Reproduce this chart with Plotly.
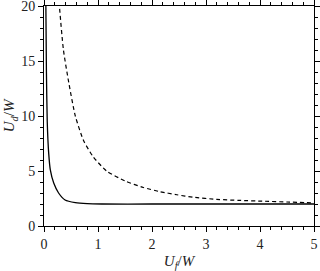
import plotly.graph_objects as go

# Solid curve
solid_x = [0.033, 0.045, 0.06, 0.087, 0.117, 0.18, 0.27, 0.39, 0.58, 0.8, 1.07, 2.0, 3.0, 4.0, 5.0]
solid_y = [21.0, 14.0, 9.5, 6.6, 5.1, 3.9, 3.0, 2.36, 2.12, 2.03, 2.0, 2.0, 2.0, 2.0, 2.0]

# Dashed curve
dash_x = [0.27, 0.285, 0.36, 0.46, 0.58, 0.73, 0.91, 1.16, 1.5, 1.84, 2.15, 2.46, 2.76, 3.2, 3.6, 4.09, 4.5, 5.0]
dash_y = [21.0, 20.0, 16.0, 13.0, 10.0, 7.8, 6.3, 5.0, 4.1, 3.5, 3.12, 2.84, 2.62, 2.42, 2.33, 2.25, 2.18, 2.1]

x_ticks = [0, 1, 2, 3, 4, 5]
y_ticks = [0, 5, 10, 15, 20]

fig = go.Figure()
fig.add_trace(go.Scatter(x=solid_x, y=solid_y, mode="lines",
                         line=dict(color="black", width=1.3, shape="spline", smoothing=0.6),
                         showlegend=False))
fig.add_trace(go.Scatter(x=dash_x, y=dash_y, mode="lines",
                         line=dict(color="black", width=1.2, dash="4px,3px", shape="spline", smoothing=0.6),
                         showlegend=False))

fam = "Liberation Serif, DejaVu Serif, serif"
font = dict(family=fam, color="#222222", size=14)

axis_common = dict(
    showline=True, linecolor="black", linewidth=1, mirror="ticks",
    ticks="outside", ticklen=5, tickwidth=1, tickcolor="black",
    showgrid=False, zeroline=False, automargin=False,
    ticklabeloverflow="allow",
    tickfont=font,
)

fig.update_xaxes(range=[0, 5], tickvals=x_ticks, ticktext=[str(v) for v in x_ticks],
                 minor=dict(dtick=0.2, ticklen=3, ticks="outside", tickcolor="black", showgrid=False),
                 title=dict(text="<i>U</i><sub><i>f</i></sub>/<i>W</i>", font=dict(family=fam, size=15, color="#222222"), standoff=6),
                 **axis_common)
fig.update_yaxes(range=[0, 20], tickvals=y_ticks, ticktext=[str(v) for v in y_ticks],
                 minor=dict(dtick=1, ticklen=3, ticks="outside", tickcolor="black", showgrid=False),
                 title=dict(text="<i>U</i><sub><i>d</i></sub>/<i>W</i>", font=dict(family=fam, size=15, color="#222222"), standoff=2),
                 **axis_common)

fig.update_layout(
    template="none",
    width=320, height=271,
    margin=dict(l=44, r=6, t=6, b=45),
    paper_bgcolor="white", plot_bgcolor="white",
    font=dict(family=fam, color="#222222"),
)

fig.write_html("out.html", config={"displayModeBar": False, "staticPlot": True},
               post_script="document.body.style.margin='0';document.body.style.padding='0';document.body.style.overflow='hidden';")
